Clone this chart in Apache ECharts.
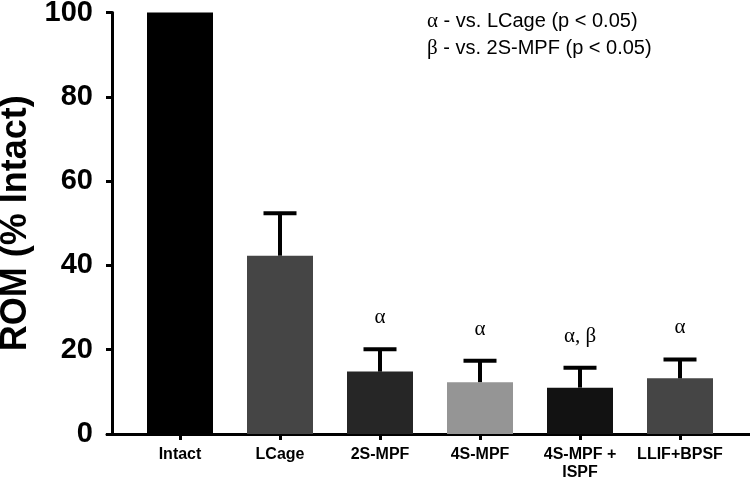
<!DOCTYPE html>
<html>
<head>
<meta charset="utf-8">
<script src="https://cdn.jsdelivr.net/npm/echarts@6/dist/echarts.min.js"></script>
<style>
  body { margin: 0; padding: 0; background: #fff; }
  #chart { width: 750px; height: 480px; }
</style>
</head>
<body>
<div id="chart"></div>
<script>
  // groups and values
  var groups = ['Intact', 'LCage', '2S-MPF', '4S-MPF', '4S-MPF +\nISPF', 'LLIF+BPSF'];
  var rom = [100, 42.3, 14.8, 12.3, 11.0, 13.2];      // mean ROM (% intact)
  var sd = [0, 10.1, 5.3, 5.1, 4.7, 4.5];             // upper error bar
  var marks = ['', '', 'α', 'α', 'α, β', 'α'];        // significance marks
  var colors = ['#000000', '#454545', '#262626', '#959595', '#121212', '#454545'];
  var yTicks = { min: 0, max: 100, step: 20 };

  var chart = echarts.init(document.getElementById('chart'));

  var errData = [];
  for (var i = 0; i < groups.length; i++) {
    errData.push([i, rom[i], rom[i] + sd[i]]);
  }

  var option = {
    animation: false,
    title: {
      left: 427,
      top: 8,
      padding: 0,
      text: '{g|α} - vs. LCage (p < 0.05)\n{g|β} - vs. 2S-MPF (p < 0.05)',
      textStyle: {
        fontFamily: 'Liberation Sans',
        fontSize: 20,
        fontWeight: 'normal',
        lineHeight: 27,
        color: '#000',
        rich: {
          g: { fontFamily: 'Liberation Serif', fontSize: 21, lineHeight: 27, color: '#000' }
        }
      }
    },
    grid: [
      { left: 130, right: 20, top: 12.5, bottom: 46, outerBoundsMode: 'none' },
      { left: 107, right: 0, top: 12.5, bottom: 46, outerBoundsMode: 'none' }
    ],
    xAxis: [
      {
        type: 'category',
        gridIndex: 0,
        data: groups,
        axisLine: { show: false },
        axisTick: { show: true, alignWithLabel: true, length: 6, lineStyle: { color: '#000', width: 3 } },
        axisLabel: {
          interval: 0,
          margin: 12,
          color: '#000',
          fontFamily: 'Liberation Sans',
          fontWeight: 'bold',
          fontSize: 16,
          lineHeight: 18
        }
      },
      {
        // long baseline that runs past the bars like in the figure
        type: 'value',
        gridIndex: 1,
        min: 0,
        max: 1,
        axisLine: { show: true, onZero: false, lineStyle: { color: '#000', width: 3 } },
        axisTick: { show: false },
        axisLabel: { show: false },
        splitLine: { show: false }
      }
    ],
    yAxis: [
      {
        type: 'value',
        gridIndex: 0,
        min: yTicks.min,
        max: yTicks.max,
        interval: yTicks.step,
        offset: 18,
        name: 'ROM (% Intact)',
        nameLocation: 'middle',
        nameGap: 77,
        nameTextStyle: {
          color: '#000',
          fontFamily: 'Liberation Sans',
          fontWeight: 'bold',
          fontSize: 36
        },
        axisLine: { show: true, lineStyle: { color: '#000', width: 3 } },
        axisTick: { show: true, length: 6, lineStyle: { color: '#000', width: 3 } },
        axisLabel: {
          margin: 19,
          color: '#000',
          fontFamily: 'Liberation Sans',
          fontWeight: 'bold',
          fontSize: 29
        },
        splitLine: { show: false }
      },
      {
        type: 'value',
        gridIndex: 1,
        show: false,
        min: 0,
        max: 1
      }
    ],
    series: [
      {
        type: 'bar',
        xAxisIndex: 0,
        yAxisIndex: 0,
        barWidth: 66,
        data: rom.map(function (v, i) {
          return { value: v, itemStyle: { color: colors[i] } };
        })
      },
      {
        type: 'custom',
        xAxisIndex: 0,
        yAxisIndex: 0,
        z: 3,
        encode: { x: 0, y: [1, 2] },
        data: errData,
        renderItem: function (params, api) {
          var idx = api.value(0);
          var top = api.coord([idx, api.value(1)]);
          var hi = api.coord([idx, api.value(2)]);
          var children = [];
          if (api.value(2) > api.value(1)) {
            children.push({
              type: 'line',
              shape: { x1: top[0], y1: top[1], x2: hi[0], y2: hi[1] },
              style: { stroke: '#000', lineWidth: 4 }
            });
            children.push({
              type: 'line',
              shape: { x1: hi[0] - 16.5, y1: hi[1], x2: hi[0] + 16.5, y2: hi[1] },
              style: { stroke: '#000', lineWidth: 4 }
            });
          }
          var s = marks[params.dataIndex];
          if (s) {
            children.push({
              type: 'text',
              x: hi[0],
              y: hi[1] - 21,
              style: {
                text: s,
                fill: '#000',
                fontFamily: 'Liberation Serif',
                fontSize: 21,
                align: 'center',
                verticalAlign: 'bottom'
              }
            });
          }
          return { type: 'group', children: children };
        }
      }
    ]
  };

  chart.setOption(option);
</script>
</body>
</html>
